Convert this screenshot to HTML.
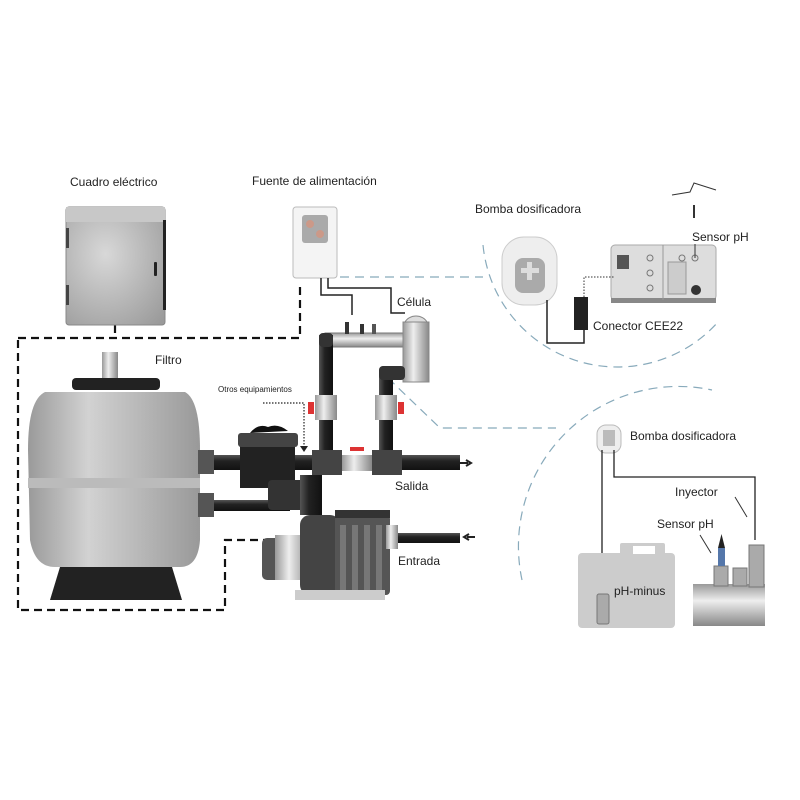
<!DOCTYPE html>
<html><head><meta charset="utf-8"><style>
html,body{margin:0;padding:0;background:#fff}
svg{display:block}
text{font-family:"Liberation Sans",sans-serif;fill:#222}
</style></head><body>
<svg width="800" height="800" viewBox="0 0 800 800" xmlns="http://www.w3.org/2000/svg">
<defs>
<linearGradient id="tank" x1="0" x2="1"><stop offset="0" stop-color="#9a9a9a"/><stop offset="0.35" stop-color="#d2d2d2"/><stop offset="1" stop-color="#999"/></linearGradient>
<linearGradient id="pipe" x1="0" y1="0" x2="0" y2="1"><stop offset="0" stop-color="#555"/><stop offset="0.4" stop-color="#222"/><stop offset="1" stop-color="#111"/></linearGradient>
<linearGradient id="vpipe" x1="0" x2="1"><stop offset="0" stop-color="#555"/><stop offset="0.4" stop-color="#222"/><stop offset="1" stop-color="#111"/></linearGradient>
<linearGradient id="metal" x1="0" x2="1"><stop offset="0" stop-color="#999"/><stop offset="0.4" stop-color="#eee"/><stop offset="1" stop-color="#888"/></linearGradient>
<linearGradient id="hmetal" x1="0" y1="0" x2="0" y2="1"><stop offset="0" stop-color="#999"/><stop offset="0.4" stop-color="#eee"/><stop offset="1" stop-color="#888"/></linearGradient>
<radialGradient id="cab" cx="0.4" cy="0.4" r="0.8"><stop offset="0" stop-color="#d8d8d8"/><stop offset="1" stop-color="#9a9a9a"/></radialGradient>
</defs>

<text x="70" y="186" font-size="12">Cuadro eléctrico</text>
<text x="252" y="185" font-size="12">Fuente de alimentación</text>
<text x="475" y="213" font-size="12">Bomba dosificadora</text>
<text x="692" y="241" font-size="12">Sensor pH</text>
<text x="397" y="306" font-size="12">Célula</text>
<text x="155" y="364" font-size="12">Filtro</text>
<text x="218" y="392" font-size="8">Otros equipamientos</text>
<text x="395" y="490" font-size="12">Salida</text>
<text x="398" y="565" font-size="12">Entrada</text>
<text x="593" y="330" font-size="12">Conector CEE22</text>
<text x="630" y="440" font-size="12">Bomba dosificadora</text>
<text x="675" y="496" font-size="12">Inyector</text>
<text x="657" y="528" font-size="12">Sensor pH</text>

<g fill="none" stroke="#111" stroke-width="2.2" stroke-dasharray="8,5">
<path d="M115 325 V338 M18 338 H300 V282"/>
<path d="M18 340 V610 H225 V540 H268"/>
</g>
<g fill="none" stroke="#8ab" stroke-width="1.2" stroke-dasharray="9,6">
<path d="M340 277 H483"/>
<path d="M388 378 L440 428 H556"/>
<path d="M483 245 A135 135 0 0 0 718 322"/>
<path d="M522 580 A160 160 0 0 1 712 390"/>
</g>

<rect x="66" y="207" width="99" height="118" rx="3" fill="url(#cab)" stroke="#888"/>
<rect x="66" y="207" width="99" height="15" fill="#c8c8c8"/>
<rect x="163" y="220" width="3" height="90" fill="#222"/>
<rect x="66" y="228" width="3" height="20" fill="#444"/><rect x="66" y="285" width="3" height="20" fill="#444"/>
<rect x="154" y="262" width="3" height="14" rx="1" fill="#222"/>

<rect x="293" y="207" width="44" height="71" rx="3" fill="#f4f4f4" stroke="#bbb"/>
<rect x="302" y="215" width="26" height="28" rx="3" fill="#aaa"/>
<circle cx="310" cy="224" r="4" fill="#c98"/><circle cx="320" cy="234" r="4" fill="#c98"/>
<g stroke="#222" stroke-width="1.5" fill="none">
<path d="M321 278 V295 H352 V315"/>
<path d="M328 278 V288 H391 V313 H405"/>
</g>

<rect x="325" y="333" width="80" height="14" fill="url(#hmetal)" stroke="#777"/>
<rect x="345" y="322" width="4" height="12" fill="#333"/><rect x="360" y="324" width="4" height="10" fill="#333"/><rect x="372" y="324" width="4" height="10" fill="#555"/>
<rect x="403" y="322" width="26" height="60" fill="url(#metal)" stroke="#888"/>
<path d="M405 322 A12 10 0 0 1 427 322 Z" fill="#ddd" stroke="#888"/>

<rect x="200" y="455" width="260" height="15" fill="url(#pipe)"/>
<rect x="210" y="500" width="80" height="11" fill="url(#pipe)"/>
<rect x="390" y="533" width="70" height="10" fill="url(#pipe)"/>
<rect x="319" y="335" width="14" height="125" fill="url(#vpipe)"/>
<rect x="379" y="370" width="14" height="90" fill="url(#vpipe)"/>
<rect x="319" y="333" width="14" height="14" rx="4" fill="#333"/>
<rect x="379" y="366" width="26" height="14" rx="4" fill="#333"/>
<rect x="312" y="450" width="30" height="25" fill="#444"/>
<rect x="372" y="450" width="30" height="25" fill="#444"/>
<rect x="342" y="455" width="30" height="16" fill="url(#metal)"/>
<rect x="350" y="447" width="14" height="4" fill="#d33"/>
<rect x="315" y="395" width="22" height="25" fill="url(#metal)"/><rect x="308" y="402" width="6" height="12" fill="#d33"/>
<rect x="375" y="395" width="22" height="25" fill="url(#metal)"/><rect x="398" y="402" width="6" height="12" fill="#d33"/>
<path d="M460 463 l8 0 M466 460 l5 3 -5 3" stroke="#222" stroke-width="2" fill="none"/>
<path d="M475 537 l-8 0 M469 534 l-5 3 5 3" stroke="#222" stroke-width="2" fill="none"/>
<path d="M263 403 H304 V447" stroke="#222" stroke-width="1.2" stroke-dasharray="1.5,1.5" fill="none"/>
<path d="M300 446 l4 6 4 -6 z" fill="#222"/>

<rect x="72" y="378" width="88" height="12" rx="4" fill="#222"/>
<rect x="102" y="352" width="16" height="26" fill="url(#metal)"/>
<path d="M45 392 Q28 400 28 450 L30 540 Q35 567 55 567 H180 Q198 567 200 540 L200 450 Q200 400 185 392 Z" fill="url(#tank)"/>
<rect x="28" y="478" width="172" height="10" fill="#bbb"/>
<path d="M60 567 H172 L182 600 H50 Z" fill="#222"/>
<rect x="198" y="450" width="16" height="24" fill="#555"/>
<rect x="198" y="493" width="16" height="24" fill="#555"/>

<rect x="240" y="440" width="55" height="48" fill="#222"/>
<rect x="238" y="433" width="60" height="14" rx="3" fill="#444"/>
<path d="M250 433 q8 -10 18 -6 q10 -4 20 4" fill="#111"/>
<rect x="268" y="480" width="40" height="30" rx="4" fill="#333"/>
<rect x="300" y="475" width="22" height="40" fill="url(#vpipe)"/>

<rect x="262" y="538" width="38" height="42" rx="5" fill="#555"/>
<rect x="275" y="535" width="35" height="45" fill="url(#metal)"/>
<rect x="300" y="515" width="40" height="80" rx="10" fill="#444"/>
<rect x="335" y="515" width="55" height="80" rx="4" fill="#555"/>
<g fill="#777"><rect x="340" y="525" width="6" height="65"/><rect x="352" y="525" width="6" height="65"/><rect x="364" y="525" width="6" height="65"/><rect x="376" y="525" width="6" height="65"/></g>
<rect x="335" y="510" width="55" height="8" fill="#333"/>
<rect x="386" y="525" width="12" height="24" fill="url(#metal)"/>
<rect x="295" y="590" width="90" height="10" fill="#ccc"/>

<rect x="611" y="245" width="105" height="55" rx="4" fill="#ddd" stroke="#aaa"/>
<rect x="611" y="298" width="105" height="5" fill="#888"/>
<line x1="663" y1="245" x2="663" y2="300" stroke="#999"/>
<rect x="617" y="255" width="12" height="14" fill="#555"/>
<rect x="668" y="262" width="18" height="32" fill="#ccc" stroke="#999"/>
<circle cx="696" cy="290" r="5" fill="#333"/>
<g fill="none" stroke="#777"><circle cx="650" cy="258" r="3"/><circle cx="650" cy="273" r="3"/><circle cx="650" cy="288" r="3"/><circle cx="682" cy="258" r="3"/><circle cx="695" cy="258" r="3"/></g>
<path d="M672 195 L690 192 L694 183 L716 190" stroke="#333" fill="none"/>
<line x1="694" y1="205" x2="694" y2="218" stroke="#333" stroke-width="2"/>
<line x1="695" y1="244" x2="695" y2="258" stroke="#333"/>
<path d="M584 300 V277 H614" stroke="#333" stroke-dasharray="1.5,1.5" fill="none"/>
<rect x="502" y="237" width="55" height="68" rx="22" fill="#eee" stroke="#ccc"/>
<rect x="515" y="258" width="30" height="35" rx="8" fill="#aaa"/>
<rect x="521" y="268" width="18" height="5" fill="#ddd"/><rect x="527" y="262" width="5" height="18" fill="#ddd"/>
<rect x="574" y="297" width="14" height="33" fill="#222"/>
<path d="M547 300 V343 H584 V330" stroke="#222" stroke-width="1.5" fill="none"/>

<rect x="597" y="425" width="24" height="28" rx="9" fill="#eee" stroke="#bbb"/>
<rect x="603" y="430" width="12" height="16" fill="#bbb"/>
<path d="M602 450 V600 M614 450 V477 H755 V540" stroke="#222" stroke-width="1.3" fill="none"/>
<rect x="578" y="553" width="97" height="75" rx="4" fill="#ccc"/>
<rect x="620" y="543" width="45" height="12" rx="2" fill="#ccc"/>
<rect x="633" y="546" width="22" height="8" fill="#fff"/>
<rect x="597" y="594" width="12" height="30" rx="2" fill="#aaa" stroke="#777"/>
<text x="614" y="595" font-size="12">pH-minus</text>
<rect x="693" y="584" width="72" height="42" fill="url(#hmetal)"/>
<g fill="#aaa" stroke="#777"><rect x="714" y="566" width="14" height="20"/><rect x="733" y="568" width="14" height="18"/><rect x="749" y="545" width="15" height="42"/></g>
<rect x="718" y="548" width="7" height="18" fill="#57a"/>
<path d="M718 548 l3.5 -14 3.5 14z" fill="#222"/>
<path d="M735 497 L747 517 M700 535 L711 553" stroke="#333" fill="none"/>
</svg>
</body></html>
